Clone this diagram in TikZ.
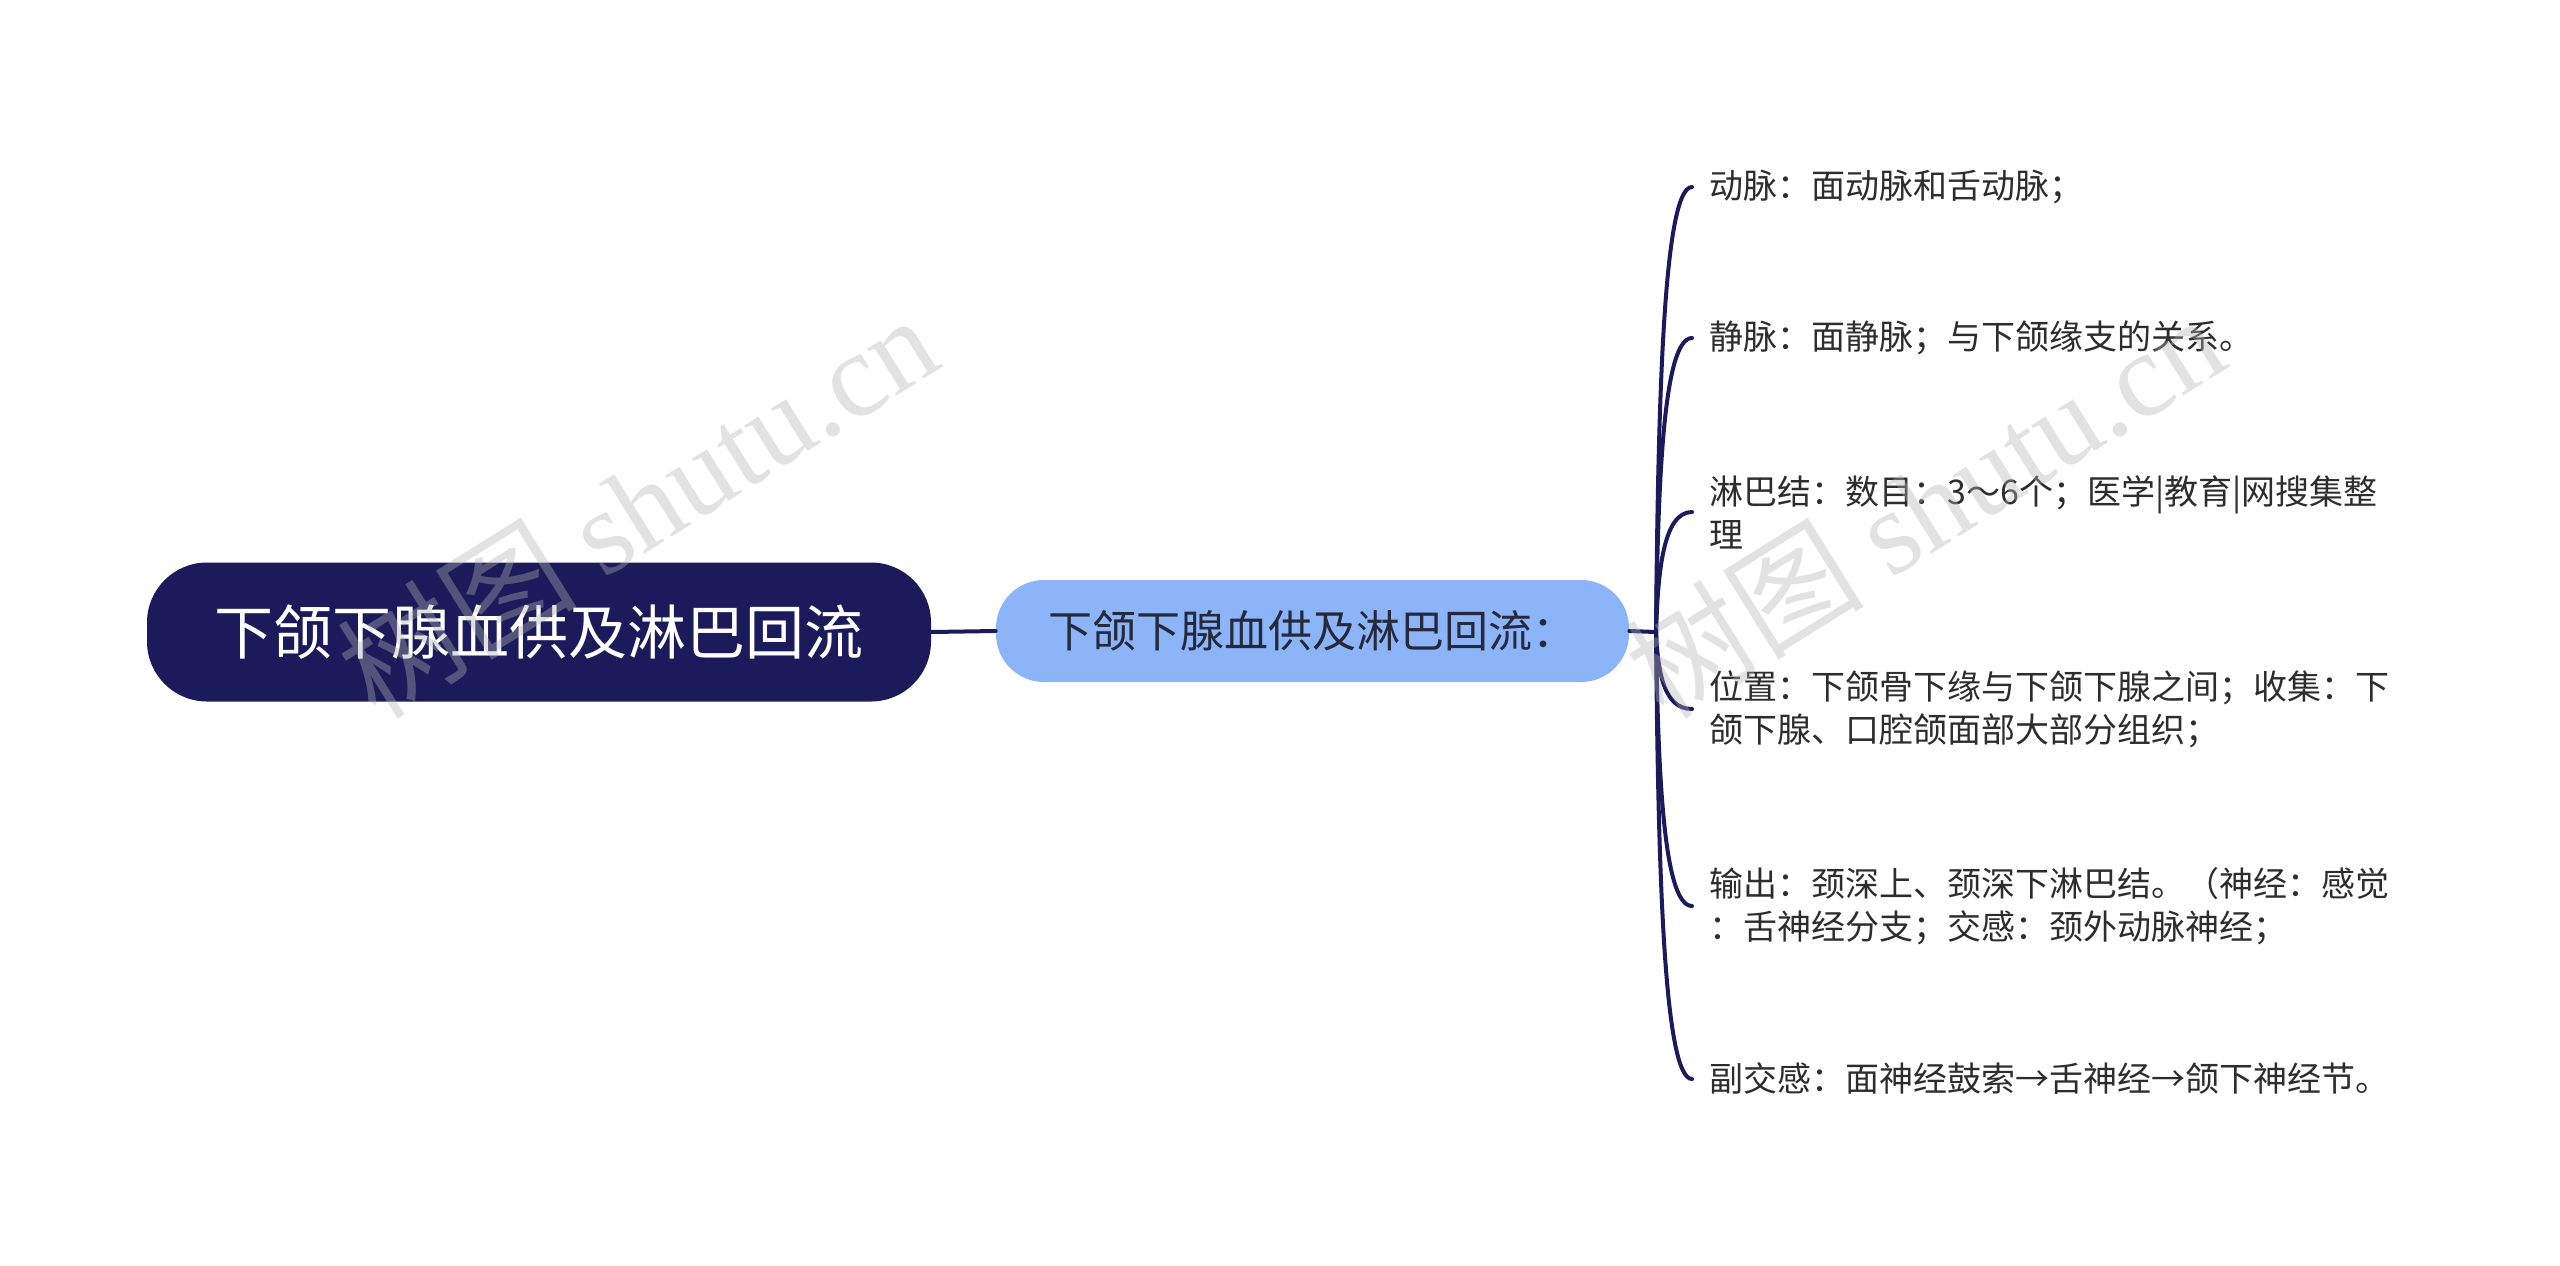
\documentclass[tikz,border=0pt]{standalone}
\usepackage{fontspec}
\setmainfont{Noto Sans CJK SC}
\newfontfamily\wmlatin{Liberation Serif}
\definecolor{navy}{RGB}{27,26,90}
\definecolor{lightblue}{RGB}{140,181,249}
\definecolor{midtext}{RGB}{38,40,60}
\definecolor{leaftext}{RGB}{45,45,45}
\begin{document}
\begin{tikzpicture}[x=0.5pt,y=-0.5pt,
  rootbox/.style={draw=none,fill=navy,text=white,rounded corners=30pt,
    minimum width=392pt,minimum height=69.5pt,inner sep=0pt,
    font=\fontsize{29.5pt}{36pt}\selectfont},
  midbox/.style={draw=none,fill=lightblue,text=midtext,rounded corners=24pt,
    minimum width=316.5pt,minimum height=51pt,inner sep=0pt,
    font=\fontsize{22pt}{27pt}\selectfont},
  leafbox/.style={anchor=west,align=left,text=leaftext,inner xsep=8.5pt,inner ysep=0pt,
    font=\fontsize{17pt}{21.5pt}\selectfont},
  conn/.style={draw=navy,line width=2pt,line cap=round},
  wm/.style={text=gray!60,opacity=0.38,rotate=32,font=\fontsize{60pt}{70pt}\selectfont}
]
\path[use as bounding box] (0,0) rectangle (2560,1265);

\node[rootbox] (root) at (539,632) {下颌下腺血供及淋巴回流};
\node[midbox] (mid) at (1312.5,631) {下颌下腺血供及淋巴回流：};
\coordinate (J) at (1656,632);

\node[leafbox] (l1) at (1692,187) {动脉：面动脉和舌动脉；};
\node[leafbox] (l2) at (1692,338) {静脉：面静脉；与下颌缘支的关系。};
\node[leafbox] (l3) at (1692,512) {淋巴结：数目：3～6个；医学|教育|网搜集整\\理};
\node[leafbox] (l4) at (1692,709) {位置：下颌骨下缘与下颌下腺之间；收集：下\\颌下腺、口腔颌面部大部分组织；};
\node[leafbox] (l5) at (1692,906) {输出：颈深上、颈深下淋巴结。（神经：感觉\\：舌神经分支；交感：颈外动脉神经；};
\node[leafbox] (l6) at (1692,1079) {副交感：面神经鼓索→舌神经→颌下神经节。};

\draw[conn] (root.east) -- (mid.west);
\draw[conn] (mid.east) -- (J);
\draw[conn] (J) .. controls (1658,409.5) and (1663,187) .. (l1.west);
\draw[conn] (J) .. controls (1658,485) and (1663,338) .. (l2.west);
\draw[conn] (J) .. controls (1658,572) and (1663,512) .. (l3.west);
\draw[conn] (J) .. controls (1658,670.5) and (1663,709) .. (l4.west);
\draw[conn] (J) .. controls (1658,769) and (1663,906) .. (l5.west);
\draw[conn] (J) .. controls (1658,855.5) and (1663,1079) .. (l6.west);

\node[wm] (wm1) at (637,505) {树图 {\wmlatin shutu.cn}};
\node[wm] (wm2) at (1924,505) {树图 {\wmlatin shutu.cn}};
\end{tikzpicture}
\end{document}
